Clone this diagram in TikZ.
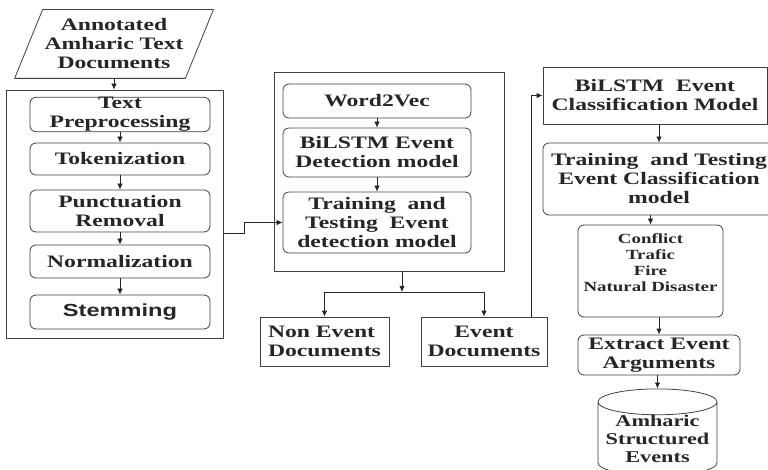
\documentclass[tikz,border=0pt]{standalone}
\usepackage{fontspec}
\setmainfont{Liberation Serif}[FakeStretch=1.35]
\newfontfamily\stemfont{Liberation Sans}[FakeStretch=1.35]
\usetikzlibrary{shapes.geometric,arrows.meta}

\tikzset{
	stepbox/.style={draw=black!75, rounded corners=6pt, align=center, inner sep=0pt},
	plainbox/.style={draw=black!75, align=center, inner sep=0pt},
	groupbox/.style={draw=black!75, inner sep=0pt},
}

\begin{document}
\begin{tikzpicture}[x=1pt, y=-1pt, font=\bfseries\fontsize{17.5}{19}\selectfont, line join=round, line width=0.8pt, >={Latex[length=6pt,width=5.5pt]}, color=black!85]
	\useasboundingbox (0,0) rectangle (768,470);
	\path
	(114,44) coordinate (D)
	(114.5,214) coordinate (P)
	(389,171.5) coordinate (M)
	(402,292) coordinate (split)
	;
	% groups
	\node[groupbox, minimum width=217pt, minimum height=248pt] (prepbox) at (P) {};
	\node[groupbox, minimum width=230pt, minimum height=199pt] (detbox) at (M) {};
	% input documents
	\node[align=center, minimum width=170pt, minimum height=68pt, inner sep=0pt] (docs) at (D) {Annotated\\Amharic Text\\Documents};
	\draw[black!75] ([xshift=14pt]docs.north west) -- ([xshift=14pt]docs.north east) -- ([xshift=-14pt]docs.south east) -- ([xshift=-14pt]docs.south west) -- cycle;
	% preprocessing
	\node[stepbox, minimum width=180pt, minimum height=33pt] (prep) at (120,114.5) {Text\\Preprocessing};
	\node[stepbox, minimum width=180pt, minimum height=32pt] (token) at (120,159) {Tokenization};
	\node[stepbox, minimum width=180pt, minimum height=42pt] (punct) at (120,211) {Punctuation\\Removal};
	\node[stepbox, minimum width=180pt, minimum height=33pt] (norm) at (120,261.5) {Normalization};
	\node[stepbox, minimum width=180pt, minimum height=34pt] (stem) at (120,312) {\stemfont Stemming};
	% detection
	\node[stepbox, minimum width=188pt, minimum height=34pt] (w2v) at (377,101) {Word2Vec};
	\node[stepbox, minimum width=188pt, minimum height=49pt] (bilstm) at (377,152.5) {BiLSTM Event\\Detection model};
	\node[stepbox, minimum width=188pt, minimum height=61pt] (train) at (377,222.5) {Training~ and\\Testing~ Event\\detection model};
	\node[plainbox, align=left, minimum width=129pt, minimum height=49pt] (nonev) at (324.5,341.5) {Non Event\\Documents};
	\node[plainbox, minimum width=126pt, minimum height=49pt] (event) at (484,341.5) {Event\\Documents};
	% classification
	\node[plainbox, minimum width=224pt, minimum height=57pt] (clsmodel) at (655,95.5) {BiLSTM~ Event\\Classification Model};
	\node[stepbox, minimum width=232pt, minimum height=72pt] (clstrain) at (659,179) {Training~ and Testing\\Event Classification\\model};
	\node[stepbox, minimum width=145pt, minimum height=92pt, font=\bfseries\fontsize{14}{16}\selectfont] (cats) at (650.5,271) {Conflict\\Trafic\\Fire\\Natural Disaster\\\mbox{}};
	\node[stepbox, minimum width=162pt, minimum height=40pt] (extract) at (659,355) {Extract Event\\Arguments};
	\node[cylinder, shape border rotate=90, draw=black!75, aspect=0.25, minimum width=119pt, minimum height=86pt, align=center, inner sep=0pt, font=\bfseries\fontsize{16.5}{18}\selectfont] (store) at (657.5,439) {Amharic\\Structured\\Events};
	% connectors
	\draw[->] (docs.south) -- (docs.south |- prepbox.north);
	\foreach \a/\b in {prep/token,token/punct,punct/norm,norm/stem,w2v/bilstm,bilstm/train,clsmodel/clstrain,clstrain/cats,cats/extract,extract/store}{
	\draw[->] (\b.north |- \a.south) -- (\b.north);
}
	\draw[->] ([yshift=-19pt]prepbox.east) -- ++(21,0) |- (train.west);
	\draw[->] (split |- detbox.south) -- (split);
	\draw[->] (split) -| (nonev);
	\draw[->] (split) -| (event);
	\draw[->] ([xshift=47pt]event.north) |- (clsmodel.west);
\end{tikzpicture}
\end{document}
